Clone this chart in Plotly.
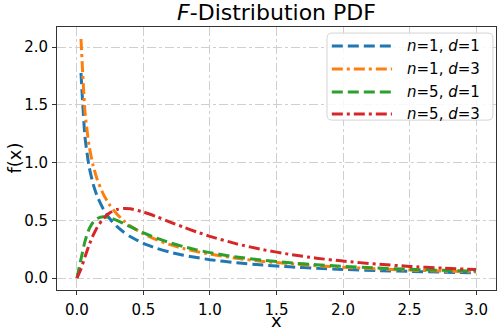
import plotly.graph_objects as go

# x sample positions
x_vals = [0.0, 0.0303, 0.0606, 0.0909, 0.1212, 0.1515, 0.2, 0.25, 0.3, 0.35, 0.4, 0.5, 0.6, 0.7,
          0.8, 0.9, 1.0, 1.2, 1.4, 1.6, 1.8, 2.0, 2.25, 2.5, 2.75, 3.0]

# n=1,d=1 and n=1,d=3 are undefined at x=0 (start at second point)
y_n1_d1 = [None, 1.775, 1.219, 0.968, 0.816, 0.710, 0.593, 0.509, 0.447, 0.399, 0.360, 0.300, 0.257,
           0.224, 0.198, 0.177, 0.159, 0.132, 0.112, 0.097, 0.085, 0.075, 0.065, 0.058, 0.051, 0.046]
y_n1_d3 = [None, 2.070, 1.435, 1.148, 0.975, 0.856, 0.722, 0.626, 0.555, 0.498, 0.453, 0.382, 0.330,
           0.289, 0.256, 0.229, 0.207, 0.171, 0.144, 0.124, 0.107, 0.094, 0.080, 0.069, 0.060, 0.053]
y_n5_d1 = [0.0, 0.164, 0.320, 0.423, 0.483, 0.515, 0.531, 0.521, 0.499, 0.472, 0.445, 0.391, 0.345,
           0.305, 0.272, 0.244, 0.220, 0.182, 0.154, 0.132, 0.115, 0.101, 0.087, 0.076, 0.067, 0.060]
y_n5_d3 = [0.0, 0.079, 0.185, 0.285, 0.369, 0.438, 0.517, 0.567, 0.593, 0.602, 0.599, 0.572, 0.531,
           0.485, 0.441, 0.399, 0.361, 0.296, 0.245, 0.205, 0.172, 0.147, 0.121, 0.101, 0.086, 0.073]

series_names = ["<i>n</i>=1, <i>d</i>=1", "<i>n</i>=1, <i>d</i>=3",
                "<i>n</i>=5, <i>d</i>=1", "<i>n</i>=5, <i>d</i>=3"]
series_vals = [y_n1_d1, y_n1_d3, y_n5_d1, y_n5_d3]
colors = ["#1f77b4", "#ff7f0e", "#2ca02c", "#d62728"]
dashes = ["11px,5px", "11px,4px,3px,4px", "11px,5px", "11px,4px,3px,4px"]

x_ticks = [0.0, 0.5, 1.0, 1.5, 2.0, 2.5, 3.0]
y_ticks = [0.0, 0.5, 1.0, 1.5, 2.0]

fig = go.Figure()
for name, ys, c, d in zip(series_names, series_vals, colors, dashes):
    fig.add_trace(go.Scatter(x=x_vals, y=ys, mode="lines", name=name, showlegend=False,
                             line=dict(color=c, width=3, dash=d, shape="spline", smoothing=0.6),
                             connectgaps=False))

font = "DejaVu Sans"

# legend box (paper coords), drawn as a rounded rectangle
lx0, lx1, ly0, ly1, r = 0.615, 0.993, 0.646, 0.977, 0.012
ry = r * 439 / 263
legend_path = (f"M {lx0+r},{ly1} L {lx1-r},{ly1} Q {lx1},{ly1} {lx1},{ly1-ry} "
               f"L {lx1},{ly0+ry} Q {lx1},{ly0} {lx1-r},{ly0} L {lx0+r},{ly0} "
               f"Q {lx0},{ly0} {lx0},{ly0+ry} L {lx0},{ly1-ry} Q {lx0},{ly1} {lx0+r},{ly1} Z")
shapes = [dict(type="path", xref="paper", yref="paper", path=legend_path,
               fillcolor="rgba(255,255,255,0.85)", line=dict(color="#d4d4d4", width=1), layer="above")]
annotations = []
row_y = [0.928, 0.840, 0.753, 0.669]
for name, c, d, yy in zip(series_names, colors, dashes, row_y):
    shapes.append(dict(type="line", xref="paper", yref="paper", x0=0.626, x1=0.763, y0=yy, y1=yy,
                       line=dict(color=c, width=3, dash=d), layer="above"))
    annotations.append(dict(text=name, xref="paper", yref="paper", x=0.793, y=yy, xanchor="left",
                            yanchor="middle", showarrow=False,
                            font=dict(family=font, size=15, color="black")))

# axis titles
annotations.append(dict(text="x", xref="paper", yref="paper", x=0.5, y=0, xanchor="center",
                        yanchor="bottom", yshift=-41.5, showarrow=False, borderpad=0,
                        font=dict(family=font, size=18, color="black")))
annotations.append(dict(text="f(x)", xref="paper", yref="paper", x=0, y=0.5, xanchor="center",
                        yanchor="middle", xshift=-43, textangle=-90, showarrow=False,
                        font=dict(family=font, size=18, color="black")))

axis_common = dict(showline=True, linecolor="#333333", linewidth=1, mirror=True,
                   ticks="outside", ticklen=4, tickcolor="#333333",
                   showgrid=True, gridcolor="#cfcfcf", griddash="dashdot", gridwidth=1,
                   zeroline=False, tickfont=dict(family=font, size=15, color="black"))

fig.update_layout(
    width=498, height=332,
    margin=dict(l=57, r=2, t=27, b=42, autoexpand=False),
    paper_bgcolor="white", plot_bgcolor="white",
    title=dict(text="<i>F</i>-Distribution PDF", xref="paper", x=0.5, xanchor="center",
               y=0.985, yanchor="top", font=dict(family=font, size=22, color="black")),
    xaxis=dict(range=[-0.15, 3.15], tickvals=x_ticks, ticktext=[f"{v:.1f}" for v in x_ticks],
               automargin=False, ticklabelstandoff=2, **axis_common),
    yaxis=dict(range=[-0.1035, 2.1735], tickvals=y_ticks, ticktext=[f"{v:.1f}" for v in y_ticks],
               automargin=False, ticklabelstandoff=1, **axis_common),
    shapes=shapes,
    annotations=annotations,
    showlegend=False,
)

fig.write_html("out.html", config={"displayModeBar": False},
               post_script="document.body.style.margin='0px';")
